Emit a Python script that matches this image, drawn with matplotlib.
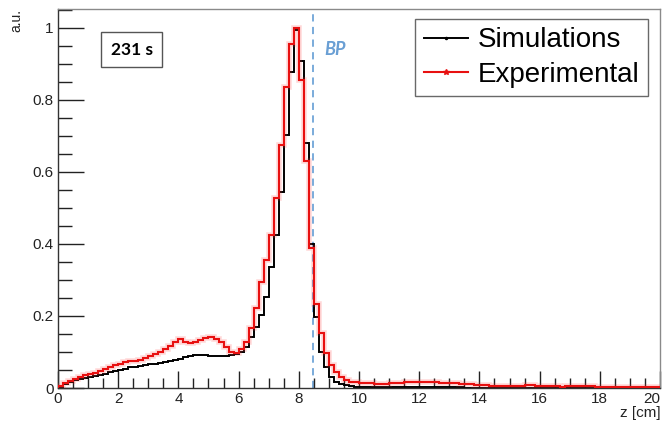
import numpy as np
import matplotlib
matplotlib.use("Agg")
import matplotlib.pyplot as plt
from matplotlib.lines import Line2D
from matplotlib.ticker import MultipleLocator, FixedLocator, FixedFormatter

# histogram binning: 120 bins over 0-20 cm
z_min, z_max, n_bins = 0.0, 20.0, 120

# simulation (black), bins 0..119
sim = [
    0.004, 0.010, 0.016, 0.021, 0.025, 0.028, 0.030, 0.032, 0.036, 0.040,
    0.044, 0.048, 0.051, 0.054, 0.057, 0.059, 0.061, 0.064, 0.066, 0.068,
    0.069, 0.071, 0.074, 0.078, 0.081, 0.085, 0.089, 0.092, 0.093, 0.092,
    0.090, 0.089, 0.088, 0.089, 0.091, 0.095, 0.100, 0.115, 0.142, 0.170,
    0.203, 0.254, 0.335, 0.425, 0.545, 0.703, 0.879, 0.995, 0.908, 0.680,
    0.400, 0.198, 0.101, 0.059, 0.031, 0.018, 0.012, 0.008, 0.006, 0.004,
    0.003, 0.003, 0.003, 0.002, 0.002, 0.002, 0.002, 0.002, 0.002, 0.002,
    0.002, 0.002, 0.002, 0.002, 0.002, 0.002, 0.002, 0.002, 0.002, 0.002,
    0.002, 0.001, 0.001, 0.001, 0.001, 0.001, 0.001, 0.001, 0.001, 0.001,
    0.001, 0.001, 0.001, 0.001, 0.001, 0.001, 0.001, 0.001, 0.001, 0.001,
    0.001, 0.001, 0.001, 0.001, 0.001, 0.001, 0.001, 0.001, 0.001, 0.001,
    0.001, 0.001, 0.001, 0.001, 0.001, 0.001, 0.001, 0.001, 0.001, 0.001,
]

# experimental (red), bins 0..119
exp = [
    0.006, 0.014, 0.020, 0.026, 0.031, 0.035, 0.039, 0.043, 0.047, 0.052,
    0.058, 0.064, 0.068, 0.071, 0.074, 0.076, 0.079, 0.082, 0.088, 0.094,
    0.100, 0.107, 0.118, 0.128, 0.135, 0.128, 0.124, 0.128, 0.132, 0.138,
    0.143, 0.137, 0.127, 0.113, 0.101, 0.098, 0.107, 0.128, 0.166, 0.221,
    0.295, 0.356, 0.426, 0.527, 0.675, 0.837, 0.955, 1.000, 0.855, 0.630,
    0.390, 0.232, 0.152, 0.098, 0.064, 0.045, 0.031, 0.022, 0.018, 0.016,
    0.014, 0.013, 0.013, 0.012, 0.012, 0.012, 0.013, 0.013, 0.015, 0.016,
    0.017, 0.017, 0.018, 0.018, 0.017, 0.016, 0.015, 0.014, 0.014, 0.013,
    0.012, 0.011, 0.010, 0.009, 0.008, 0.007, 0.006, 0.005, 0.005, 0.005,
    0.005, 0.006, 0.006, 0.007, 0.007, 0.006, 0.006, 0.005, 0.005, 0.005,
    0.004, 0.005, 0.005, 0.005, 0.006, 0.006, 0.005, 0.004, 0.004, 0.004,
    0.003, 0.004, 0.004, 0.003, 0.003, 0.004, 0.003, 0.003, 0.004, 0.003,
]

bragg_peak = 8.47
y_ticks = [0, 0.2, 0.4, 0.6, 0.8, 1.0]
y_labels = ["0", "0.2", "0.4", "0.6", "0.8", "1"]
x_ticks = [0, 2, 4, 6, 8, 10, 12, 14, 16, 18, 20]

edges = np.linspace(z_min, z_max, n_bins + 1)

plt.rcParams['font.family'] = ['Liberation Sans', 'DejaVu Sans']

fig = plt.figure(figsize=(6.65, 4.26), dpi=100)
ax = fig.add_axes([0.0872, 0.0892, 0.9053, 0.890])

# BP line
ax.axvline(bragg_peak, color='#6fa5d8', lw=1.3, ls=(0, (4, 3)), zorder=1)

ax.stairs(sim, edges, color='black', lw=1.4, zorder=2)
# red glow + line
ax.stairs(exp, edges, color='#ff4040', lw=4.0, alpha=0.2, zorder=3)
ax.stairs(exp, edges, color='#e81010', lw=1.5, zorder=4)

ax.set_xlim(z_min, z_max)
ax.set_ylim(0, 1.053)

ax.xaxis.set_major_locator(FixedLocator(x_ticks))
ax.xaxis.set_minor_locator(MultipleLocator(0.5))
ax.yaxis.set_major_locator(FixedLocator(y_ticks))
ax.yaxis.set_major_formatter(FixedFormatter(y_labels))
ax.yaxis.set_minor_locator(MultipleLocator(0.05))

ax.tick_params(which='both', direction='in', top=False, right=False,
               labelsize=11, colors='#222222')
ax.tick_params(axis='y', which='major', length=19, width=1.0, pad=3)
ax.tick_params(axis='y', which='minor', length=10, width=1.0)
ax.tick_params(axis='x', which='major', length=12, width=1.0, pad=3)
ax.tick_params(axis='x', which='minor', length=7, width=1.0)

# keep last x label inside the figure
fig.canvas.draw()
ax.get_xticklabels()[-1].set_horizontalalignment('right')

for s in ['left', 'bottom']:
    ax.spines[s].set_color('#333333')
    ax.spines[s].set_linewidth(1.0)
for s in ['top', 'right']:
    ax.spines[s].set_color('#8a8a8a')
    ax.spines[s].set_linewidth(1.0)

# axis titles
fig.text(0.024, 0.978, 'a.u.', rotation=90, ha='center', va='top',
         fontsize=10, color='#222222')
fig.text(0.993, 0.030, 'z [cm]', ha='right', va='center',
         fontsize=11, color='#222222')

# time box
ax.text(2.45, 0.94, '231 s', ha='center', va='center', fontsize=12.5,
        fontweight='bold', family=['Lato', 'DejaVu Sans'], color='black',
        bbox=dict(boxstyle='square,pad=0.55', fc='white', ec='#555555', lw=1.0))

# BP label
ax.text(bragg_peak + 0.38, 0.94, 'BP', ha='left', va='center', fontsize=13,
        fontweight='bold', fontstyle='italic', family=['Lato', 'DejaVu Sans'],
        color='#6a9fd4')

handles = [
    Line2D([], [], color='black', lw=1.4, marker='.', markersize=3),
    Line2D([], [], color='#e81010', lw=1.5, marker='*', markersize=4),
]
leg = ax.legend(handles, ['Simulations', 'Experimental'], loc='upper right',
                bbox_to_anchor=(648 / 665, 1 - 19 / 426),
                bbox_transform=fig.transFigure, fontsize=20,
                frameon=True, fancybox=False, edgecolor='#444444',
                handlelength=1.6, handletextpad=0.35, borderpad=0.3,
                labelspacing=0.3, borderaxespad=0)
leg.get_frame().set_linewidth(1.0)

fig.savefig('out.png', dpi=100)
